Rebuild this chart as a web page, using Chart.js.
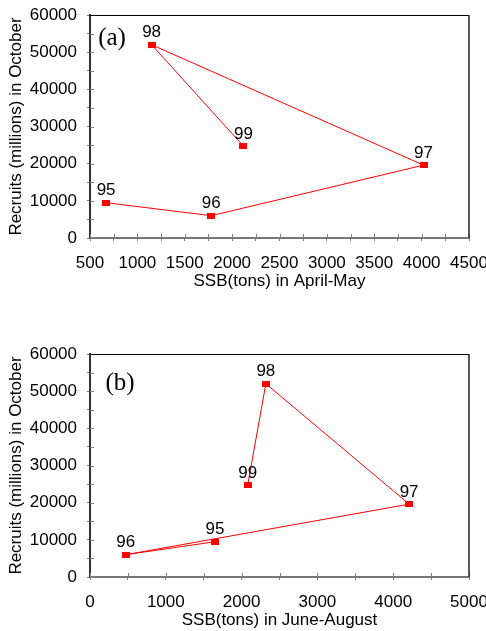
<!DOCTYPE html>
<html>
<head>
<meta charset="utf-8">
<script src="https://cdn.jsdelivr.net/npm/chart.js@4/dist/chart.umd.min.js"></script>
<style>
  body { margin: 0; background: #fff; }
  canvas { position: absolute; left: 0; }
</style>
</head>
<body>
<canvas id="chartA" width="486" height="312" style="top:0"></canvas>
<canvas id="chartB" width="486" height="319" style="top:312px"></canvas>
<script>
// years shown next to each point
var yearLabels = ['95', '96', '97', '98', '99'];
// SSB (tons) in April-May and June-August
var ssbAprMay = [670, 1780, 4020, 1150, 2120];
var ssbJunAug = [1650, 470, 4210, 2320, 2080];
// Recruits (millions) in October
var recruits = [9500, 6000, 19600, 52000, 24700];

Chart.defaults.font.family = "'Liberation Sans', Arial, sans-serif";
Chart.defaults.font.size = 17;
Chart.defaults.color = '#000';

// small red rectangle marker
var marker = document.createElement('canvas');
marker.width = 8;
marker.height = 6;
var mctx = marker.getContext('2d');
mctx.fillStyle = '#ff0000';
mctx.fillRect(0, 0, 8, 6);

// inner tick marks, top/right frame
var frame = {
  id: 'frame',
  beforeDatasetsDraw: function (chart) {
    var ctx = chart.ctx;
    var area = chart.chartArea;
    var sx = chart.scales.x, sy = chart.scales.y;
    ctx.save();
    ctx.strokeStyle = '#808080';
    ctx.lineWidth = 1;
    ctx.beginPath();
    sx.ticks.forEach(function (t) {
      var px = Math.round(sx.getPixelForValue(t.value)) + 0.5;
      ctx.moveTo(px, area.bottom);
      ctx.lineTo(px, area.bottom - 4);
    });
    sy.ticks.forEach(function (t) {
      var py = Math.round(sy.getPixelForValue(t.value)) + 0.5;
      ctx.moveTo(area.left, py);
      ctx.lineTo(area.left + 4, py);
    });
    ctx.stroke();

    ctx.strokeStyle = '#000';
    ctx.beginPath();
    ctx.moveTo(area.left, area.top + 0.5);
    ctx.lineTo(area.right, area.top + 0.5);
    ctx.stroke();
    ctx.strokeStyle = '#222';
    ctx.lineWidth = 1.5;
    ctx.beginPath();
    ctx.moveTo(area.right, area.top);
    ctx.lineTo(area.right, area.bottom);
    ctx.stroke();
    ctx.restore();
  }
};

// year labels above the points, panel letter
var extras = {
  id: 'extras',
  afterDatasetsDraw: function (chart, args, opts) {
    var ctx = chart.ctx;
    var area = chart.chartArea;
    ctx.save();
    ctx.fillStyle = '#000';
    ctx.font = "17px 'Liberation Sans', Arial, sans-serif";
    ctx.textAlign = 'center';
    ctx.textBaseline = 'middle';
    var meta = chart.getDatasetMeta(0);
    meta.data.forEach(function (pt, i) {
      ctx.fillText(yearLabels[i], pt.x, pt.y - 12);
    });

    ctx.font = "25px 'Liberation Serif', 'Times New Roman', serif";
    ctx.fillText(opts.letter, area.left + opts.dx, area.top + opts.dy);
    ctx.restore();
  }
};

function fixX(scale) {
  scale.height = 54;
  scale.paddingLeft = 0;
  scale.paddingRight = 0;
}
function fixY(scale) {
  scale.width = 84;
  scale.paddingTop = 0;
  scale.paddingBottom = 0;
}

function makeChart(id, xs, xMin, xMax, xStep, xLabelStep, xTitle, letter, dx, dy, padTop, padBottom) {
  var points = xs.map(function (x, i) { return {x: x, y: recruits[i]}; });
  return new Chart(document.getElementById(id), {
    type: 'scatter',
    data: {
      datasets: [{
        data: points,
        showLine: true,
        borderColor: '#ff0000',
        borderWidth: 1,
        pointStyle: marker,
        pointRadius: 4,
        tension: 0
      }]
    },
    options: {
      responsive: false,
      animation: false,
      layout: { padding: { left: 6, right: 17, top: padTop, bottom: padBottom } },
      plugins: {
        legend: { display: false },
        tooltip: { enabled: false },
        extras: { letter: letter, dx: dx, dy: dy }
      },
      scales: {
        x: {
          type: 'linear',
          min: xMin,
          max: xMax,
          afterFit: fixX,
          border: { color: '#777', width: 2 },
          grid: { drawOnChartArea: false, tickLength: 3, color: '#808080' },
          ticks: {
            stepSize: xStep,
            autoSkip: false,
            maxRotation: 0,
            minRotation: 0,
            padding: 12,
            callback: function (v) { return v % xLabelStep === 0 ? String(v) : ''; }
          },
          title: { display: true, text: xTitle, padding: 0, font: { size: 17 } }
        },
        y: {
          min: 0,
          max: 60000,
          afterFit: fixY,
          border: { color: '#333', width: 2 },
          grid: { drawOnChartArea: false, tickLength: 3, color: '#808080' },
          ticks: {
            stepSize: 5000,
            autoSkip: false,
            padding: 10,
            callback: function (v) { return v % 10000 === 0 ? String(v) : ''; }
          },
          title: { display: true, text: 'Recruits (millions) in October', padding: 0, font: { size: 17 } }
        }
      }
    },
    plugins: [frame, extras]
  });
}

makeChart('chartA', ssbAprMay, 500, 4500, 250, 500, 'SSB(tons) in April-May', '(a)', 22, 23, 15, 20);
makeChart('chartB', ssbJunAug, 0, 5000, 500, 1000, 'SSB(tons) in June-August', '(b)', 30, 29, 42, 0);
</script>
</body>
</html>
